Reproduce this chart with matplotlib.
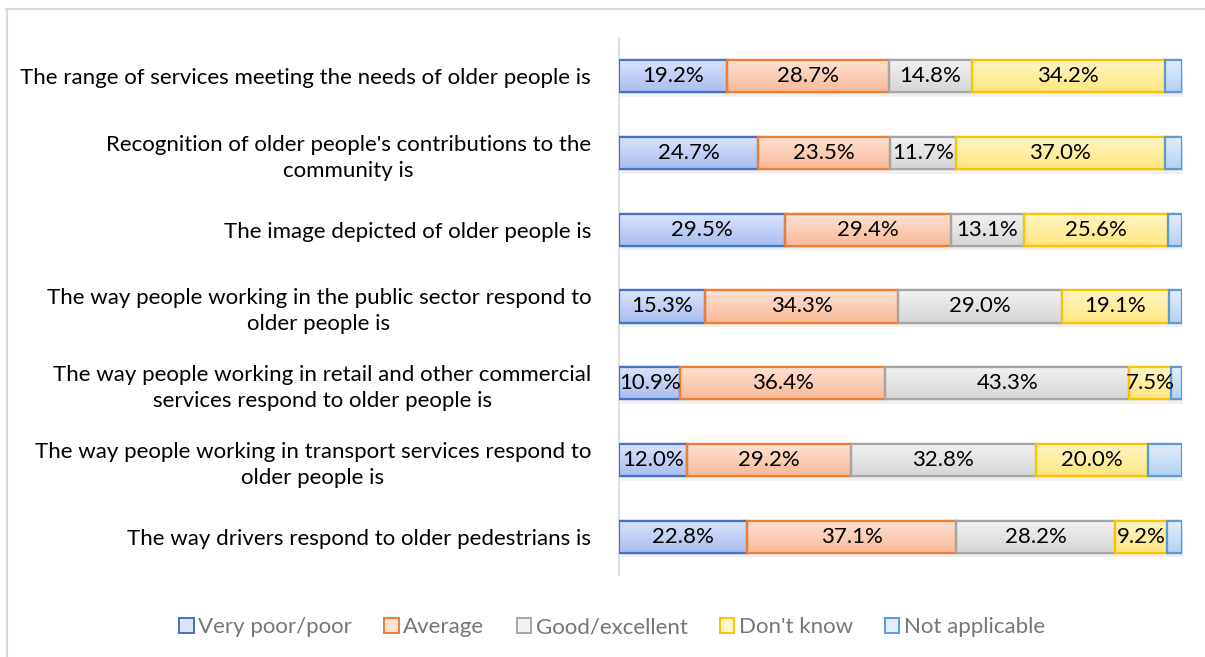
import matplotlib.pyplot as plt
import numpy as np
from matplotlib.patches import Patch
from matplotlib.colors import to_rgb

plt.rcParams['font.family'] = ['Lato', 'DejaVu Sans']

questions = [
    "The range of services meeting the needs of older people is",
    "Recognition of older people's contributions to the\ncommunity is",
    "The image depicted of older people is",
    "The way people working in the public sector respond to\nolder people is",
    "The way people working in retail and other commercial\nservices respond to older people is",
    "The way people working in transport services respond to\nolder people is",
    "The way drivers respond to older pedestrians is",
]

series = ["Very poor/poor", "Average", "Good/excellent", "Don't know", "Not applicable"]

very_poor = [19.2, 24.7, 29.5, 15.3, 10.9, 12.0, 22.8]
average = [28.7, 23.5, 29.4, 34.3, 36.4, 29.2, 37.1]
good = [14.8, 11.7, 13.1, 29.0, 43.3, 32.8, 28.2]
dont_know = [34.2, 37.0, 25.6, 19.1, 7.5, 20.0, 9.2]
not_applicable = [3.1, 3.1, 2.4, 2.3, 1.9, 6.0, 2.7]

values = [very_poor, average, good, dont_know, not_applicable]
show_label = [True, True, True, True, False]

# (light top, darker bottom, edge)
palette = [
    ("#dbe4fb", "#a9bdf1", "#4472c4"),
    ("#fde3d5", "#f8b998", "#ed7d31"),
    ("#f2f2f2", "#d6d6d6", "#a5a5a5"),
    ("#fff6c6", "#ffe680", "#ffc000"),
    ("#e2eefb", "#b4d2f3", "#5b9bd5"),
]

FS = 16

fig = plt.figure(figsize=(12.05, 6.57), dpi=100)
ax = fig.add_axes([619 / 1205, 1 - 575 / 657, 563 / 1205, 537 / 657])

ypos = np.arange(len(questions))
left = np.zeros(len(questions))

for vals, (c_top, c_bot, c_edge), lab, show in zip(values, palette, series, show_label):
    vals = np.array(vals)
    bars = ax.barh(ypos, vals, left=left, height=0.42, color=c_top,
                   edgecolor=c_edge, linewidth=1.6, zorder=3)
    grad = np.linspace(0, 1, 64)[:, None]
    top, bot = np.array(to_rgb(c_top)), np.array(to_rgb(c_bot))
    img = top[None, None, :] * (1 - grad[..., None]) + bot[None, None, :] * grad[..., None]
    for bar in bars:
        x0, y0 = bar.get_x(), bar.get_y()
        w, h = bar.get_width(), bar.get_height()
        # soft drop shadow under each segment
        ax.fill_between([x0 + 0.3, x0 + w + 0.3], y0 + 0.04, y0 + h + 0.06,
                        color="#000000", alpha=0.06, lw=0, zorder=2)
        im = ax.imshow(img, extent=(x0, x0 + w, y0 + h, y0), aspect='auto',
                       zorder=3.5, interpolation='bilinear')
        im.set_clip_path(bar)
        ax.add_patch(plt.Rectangle((x0, y0), w, h, fill=False,
                                   edgecolor=c_edge, linewidth=1.6, zorder=4))
        if show:
            ax.text(x0 + w / 2, y0 + h / 2, f"{w:.1f}%", ha='center', va='center',
                    fontsize=FS, color='black', zorder=5)
    left += vals

ax.set_xlim(0, 100)
ax.set_ylim(6.5, -0.5)
ax.set_yticks(ypos)
ax.set_yticklabels(questions, fontsize=FS, multialignment='center', linespacing=1.35)
ax.tick_params(axis='y', length=0, pad=20)
ax.set_xticks([])
for side in ['top', 'right', 'bottom']:
    ax.spines[side].set_visible(False)
ax.spines['left'].set_color('#d9d9d9')
ax.spines['left'].set_linewidth(1.2)

handles = [Patch(facecolor=p[0], edgecolor=p[2], linewidth=1.4) for p in palette]
fig.legend(handles, series, loc='center', bbox_to_anchor=(0.508, 1 - 627 / 657),
           ncol=5, frameon=False, fontsize=FS, handlelength=0.65, handleheight=0.65,
           handletextpad=0.2, columnspacing=1.45, labelcolor='#767676')

# chart area border along top and left edges
fig.add_artist(plt.Line2D([6 / 1205, 1], [1 - 9 / 657, 1 - 9 / 657],
                          transform=fig.transFigure, color='#d9d9d9', lw=1.5))
fig.add_artist(plt.Line2D([7 / 1205, 7 / 1205], [0, 1 - 9 / 657],
                          transform=fig.transFigure, color='#d9d9d9', lw=1.5))

fig.savefig('out.png', dpi=100)
